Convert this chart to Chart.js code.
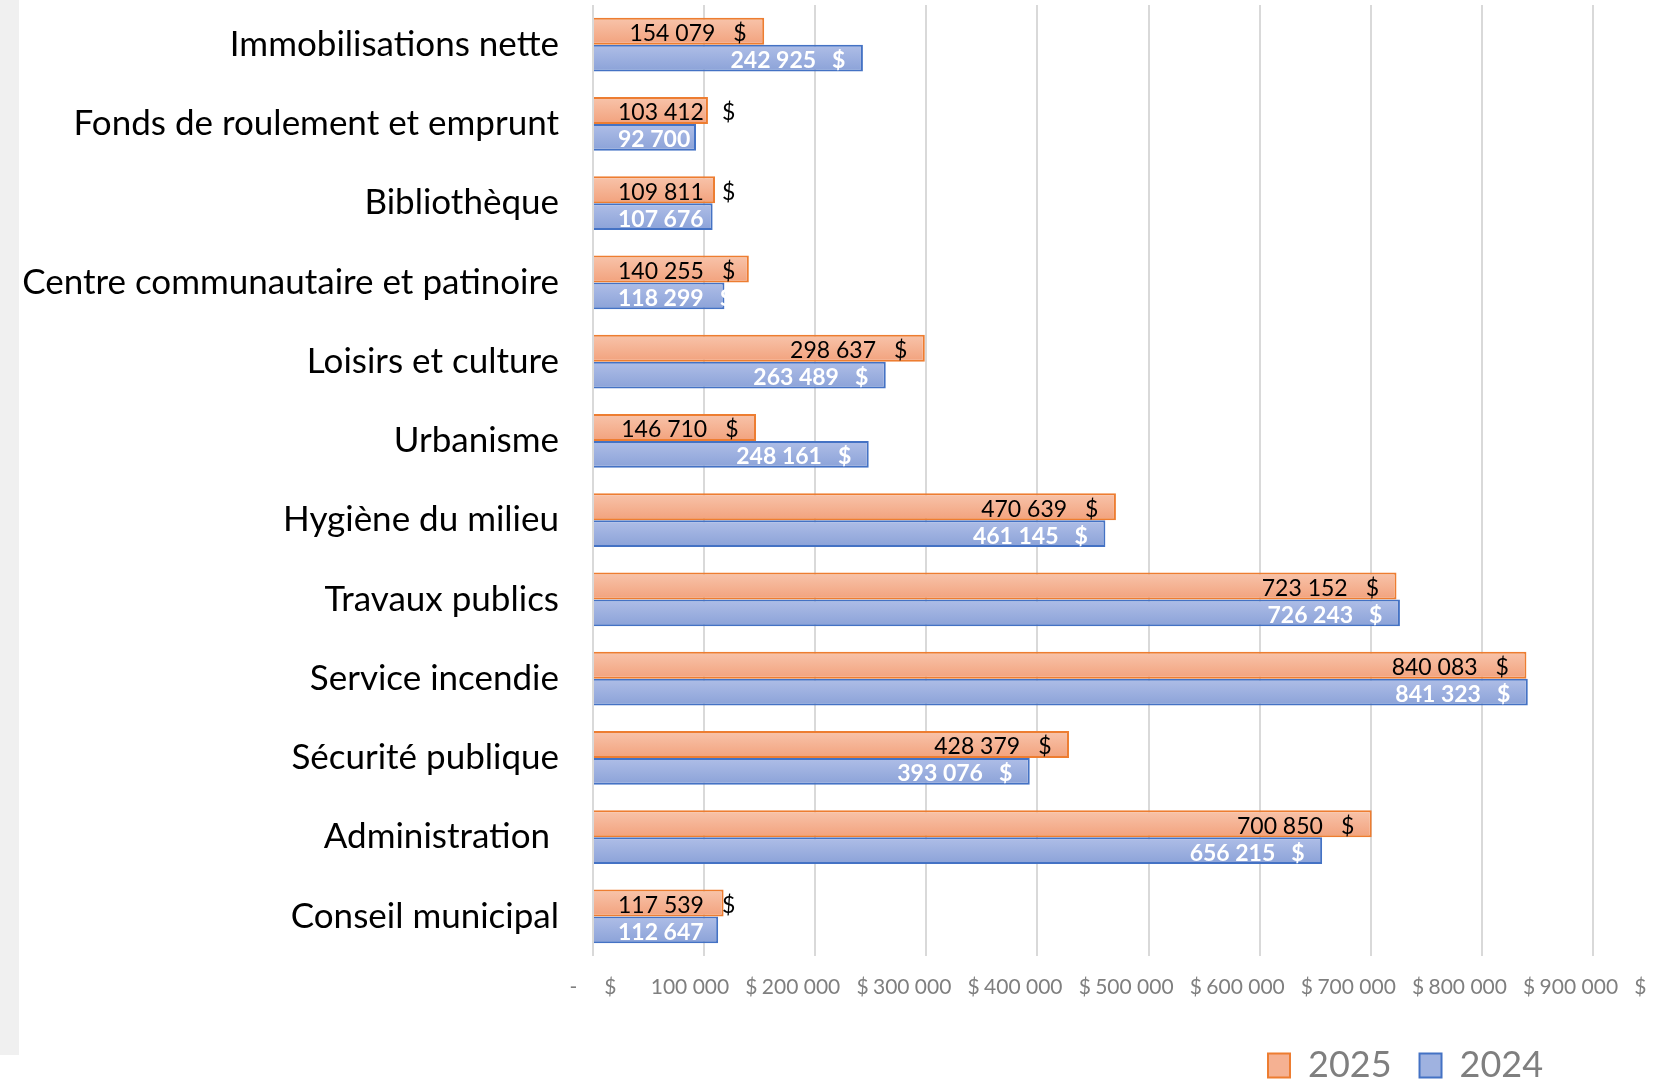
<!DOCTYPE html>
<html><head><meta charset="utf-8">
<script src="https://cdn.jsdelivr.net/npm/chart.js@4.4.1/dist/chart.umd.min.js"></script>
<style>
html,body{margin:0;padding:0;background:#fff;}
#strip{position:absolute;left:0;top:0;width:19px;height:1055px;background:#f0f0f0;}
#wrap{position:absolute;left:0;top:0;width:1668px;height:1083px;}
</style></head><body>
<div id="strip"></div>
<div id="wrap"><canvas id="c"></canvas></div>
<script>
const categories = [
  'Immobilisations nette',
  'Fonds de roulement et emprunt',
  'Bibliothèque',
  'Centre communautaire et patinoire',
  'Loisirs et culture',
  'Urbanisme',
  'Hygiène du milieu',
  'Travaux publics',
  'Service incendie',
  'Sécurité publique',
  'Administration ',
  'Conseil municipal'
];
const values2025 = [154079, 103412, 109811, 140255, 298637, 146710, 470639, 723152, 840083, 428379, 700850, 117539];
const values2024 = [242925, 92700, 107676, 118299, 263489, 248161, 461145, 726243, 841323, 393076, 656215, 112647];
const seriesNames = ['2025', '2024'];
const xMin = 0, xMax = 900000, xStep = 100000;

const fillColors = ['#f5b192', '#9fb2e0'];
const borderColors = ['#ed7d31', '#4472c4'];
const gradStops = [['#f8c4ab', '#f2a27d'], ['#afbee7', '#8ba2d8']];

function fmt(v) { return String(v).replace(/\B(?=(\d{3})+(?!\d))/g, ' '); }

const gradPlugin = {
  id: 'grad',
  beforeDatasetsDraw(chart) {
    const c = chart.ctx;
    chart.data.datasets.forEach((ds, di) => {
      chart.getDatasetMeta(di).data.forEach(el => {
        const top = el.y - el.height / 2;
        const g = c.createLinearGradient(0, top, 0, top + el.height);
        g.addColorStop(0, gradStops[di][0]);
        g.addColorStop(1, gradStops[di][1]);
        el.options = Object.assign({}, el.options, { backgroundColor: g });
      });
    });
  }
};

const labelPlugin = {
  id: 'vals',
  afterDatasetsDraw(chart) {
    const c = chart.ctx;
    chart.data.datasets.forEach((ds, di) => {
      const meta = chart.getDatasetMeta(di);
      c.save();
      c.font = (di === 1 ? 'bold ' : '') + '23px Lato';
      c.fillStyle = di === 1 ? '#ffffff' : '#000000';
      c.textBaseline = 'alphabetic';
      c.textAlign = 'left';
      meta.data.forEach((el, i) => {
        const num = fmt(ds.data[i]);
        const nw = c.measureText(num).width, dw = c.measureText('$').width;
        const gap = di === 1 ? 16 : 18;
        const w = nw + gap + dw;
        let right = el.x - 17.5;
        const minLeft = el.base + 24;
        if (right - w < minLeft) right = minLeft + w;
        const y = el.y + 10;
        c.fillText(num, right - w, y);
        c.fillText('$', right - dw, y);
      });
      c.restore();
    });
  }
};

const legendPlace = {
  id: 'legendPlace',
  afterLayout(chart) {
    const L = chart.legend;
    if (!L) return;
    const h = L.height, w = L.width;
    L.left = 1240; L.right = 1240 + w;
    L.top = 1019.5; L.bottom = L.top + h;
  }
};

new Chart(document.getElementById('c'), {
  type: 'bar',
  data: {
    labels: categories,
    datasets: [
      { label: seriesNames[0], data: values2025, backgroundColor: fillColors[0], borderColor: borderColors[0], borderWidth: 2 },
      { label: seriesNames[1], data: values2024, backgroundColor: fillColors[1], borderColor: borderColors[1], borderWidth: 2 }
    ]
  },
  options: {
    indexAxis: 'y',
    responsive: true,
    maintainAspectRatio: false,
    animation: false,
    events: [],
    layout: { padding: { top: 5, right: 75, left: 0, bottom: 0 } },
    datasets: { bar: { categoryPercentage: 0.68, barPercentage: 1 } },
    scales: {
      x: {
        min: xMin, max: xMax,
        ticks: {
          stepSize: xStep, color: '#7f7f7f', font: { family: 'Lato', size: 21 }, padding: 19,
          maxRotation: 0, autoSkip: false,
          callback: v => v === 0 ? '-     $' : fmt(v) + '   $'
        },
        grid: { color: '#d9d9d9', lineWidth: 2, drawTicks: false },
        border: { display: false },
        afterFit: s => { s.height = 1083 - 956 - (s.chart.legend ? s.chart.legend.height : 0); }
      },
      y: {
        ticks: { color: '#000000', font: { family: 'Lato', size: 35 }, padding: 34, autoSkip: false },
        grid: { display: false, drawTicks: false },
        border: { display: false },
        afterFit: s => { s.width = 593; s.paddingTop = 0; s.paddingBottom = 0; }
      }
    },
    plugins: {
      legend: {
        position: 'bottom', align: 'start',
        labels: { color: '#7f7f7f', font: { family: 'Lato', size: 36 }, boxWidth: 22, boxHeight: 24, padding: 28 }
      },
      tooltip: { enabled: false }
    }
  },
  plugins: [gradPlugin, labelPlugin, legendPlace]
});
</script>
</body></html>
